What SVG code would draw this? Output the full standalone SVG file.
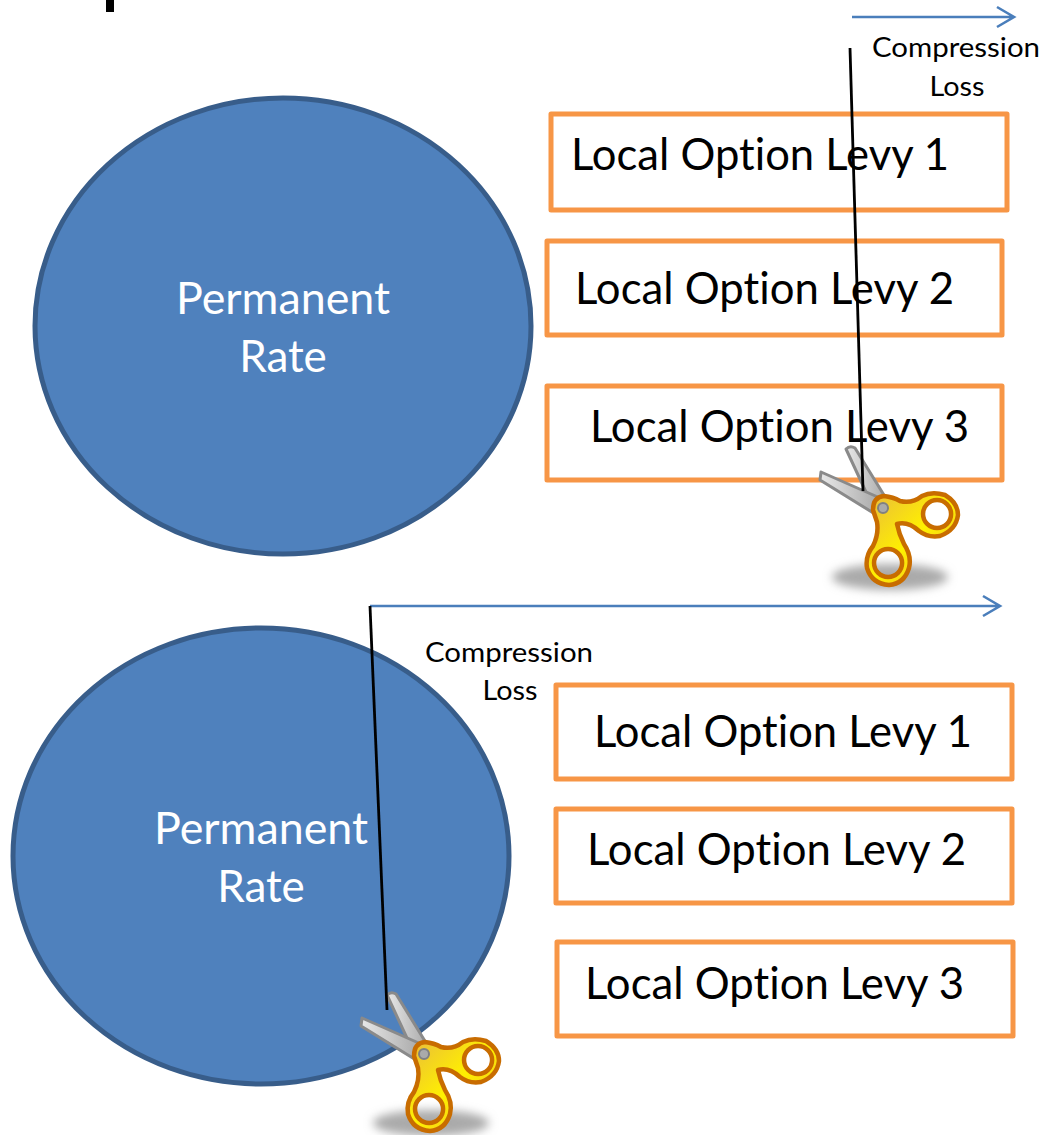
<svg xmlns="http://www.w3.org/2000/svg" width="1043" height="1135" viewBox="0 0 1043 1135">
<style>
.c{fill:#4f81bd;stroke:#385d8a;stroke-width:5}
.b{fill:#fff;stroke:#f79646;stroke-width:5;stroke-linejoin:round}
text{font-family:Lato,"Liberation Sans",sans-serif;font-variant-ligatures:none}
.t{font-size:44px;fill:#000}
.w{font-size:44px;fill:#fff;text-anchor:middle}
.s{font-size:27px;fill:#000;text-anchor:middle}
.a{fill:none;stroke:#4a7ebb;stroke-width:2.6}
.k{fill:none;stroke:#000;stroke-width:2.8}
</style>
<defs>
<filter id="bl" x="-30%" y="-60%" width="160%" height="220%"><feGaussianBlur stdDeviation="5"/></filter>
<linearGradient id="y" x1="0" y1="0" x2="1" y2="1"><stop offset="0" stop-color="#e8b840"/><stop offset=".5" stop-color="#fff000"/><stop offset="1" stop-color="#e8b030"/></linearGradient>
<linearGradient id="bd" x1="0" y1="0" x2="1" y2="0"><stop offset="0" stop-color="#e8e8e8"/><stop offset="1" stop-color="#a8a8a8"/></linearGradient>
<g id="scissors">
<ellipse cx="890" cy="577" rx="58" ry="13" fill="#aaa" filter="url(#bl)"/>
<path d="M846 449Q850 445 855 448L887 500L872 505Z" fill="url(#bd)" stroke="#8a8a8a" stroke-width="3" stroke-linejoin="round"/>
<path d="M820 480L821 472L880 498L875 514Z" fill="url(#bd)" stroke="#8a8a8a" stroke-width="3" stroke-linejoin="round"/>
<path fill-rule="evenodd" fill="url(#y)" stroke="#c86c00" stroke-width="4.5" stroke-linejoin="round" d="M873 510Q873 497 884 496Q893 497 900 501Q912 504 922 496Q932 491 945 495Q958 503 958 515Q956 530 940 536Q928 538 919 531Q908 521 897 524Q899 534 904 544Q912 556 909 568Q904 584 889 585Q872 584 867 568Q865 556 873 546Q879 534 877 522Q875 516 873 510ZM937 500A14 14 0 1 0 937.1 528A14 14 0 1 0 937 500ZM888 549A14 14 0 1 0 888.1 577A14 14 0 1 0 888 549Z"/>
<circle cx="883" cy="508" r="5" fill="#aaa" stroke="#808080" stroke-width="2"/>
</g>
</defs>

<rect width="1043" height="1135" fill="#fff"/>
<rect x="106" y="0" width="8" height="12" fill="#000"/>

<g id="node-permanent-top">
<ellipse class="c" cx="283" cy="326" rx="248" ry="228"/>
<text class="w" x="283" y="314" textLength="214" lengthAdjust="spacingAndGlyphs">Permanent</text>
<text class="w" x="283" y="372">Rate</text>
</g>
<g id="node-permanent-bottom">
<ellipse class="c" cx="261" cy="856" rx="248" ry="228"/>
<text class="w" x="261" y="844" textLength="214" lengthAdjust="spacingAndGlyphs">Permanent</text>
<text class="w" x="261" y="902">Rate</text>
</g>

<g id="node-levy-1-top"><rect class="b" x="551" y="114" width="456" height="96"/><text class="t" x="571" y="170" textLength="378" lengthAdjust="spacingAndGlyphs">Local Option Levy 1</text></g>
<g id="node-levy-2-top"><rect class="b" x="547" y="241" width="455" height="94"/><text class="t" x="575" y="304" textLength="379" lengthAdjust="spacingAndGlyphs">Local Option Levy 2</text></g>
<g id="node-levy-3-top"><rect class="b" x="547" y="386" width="455" height="94"/><text class="t" x="590" y="442" textLength="379" lengthAdjust="spacingAndGlyphs">Local Option Levy 3</text></g>
<g id="node-levy-1-bottom"><rect class="b" x="556" y="685" width="456" height="94"/><text class="t" x="594" y="747" textLength="378" lengthAdjust="spacingAndGlyphs">Local Option Levy 1</text></g>
<g id="node-levy-2-bottom"><rect class="b" x="556" y="809" width="456" height="94"/><text class="t" x="587" y="865" textLength="379" lengthAdjust="spacingAndGlyphs">Local Option Levy 2</text></g>
<g id="node-levy-3-bottom"><rect class="b" x="557" y="942" width="456" height="94"/><text class="t" x="585" y="999" textLength="379" lengthAdjust="spacingAndGlyphs">Local Option Levy 3</text></g>

<g id="scissors-top"><use href="#scissors"/></g>
<g id="scissors-bottom"><use href="#scissors" transform="translate(-459 546)"/></g>

<g id="connectors">
<path class="a" d="M852 17H1013M997 7L1014 17L997 27"/>
<path class="a" d="M370 606H1000M983 596L1000 606L983 616"/>
<path class="k" d="M850 48L863 491"/>
<path class="k" d="M370 606L387 1010"/>
</g>

<g id="labels">
<text class="s" x="956" y="57" textLength="168" lengthAdjust="spacingAndGlyphs">Compression</text>
<text class="s" x="957" y="96" textLength="55" lengthAdjust="spacingAndGlyphs">Loss</text>
<text class="s" x="509" y="662" textLength="168" lengthAdjust="spacingAndGlyphs">Compression</text>
<text class="s" x="510" y="700" textLength="55" lengthAdjust="spacingAndGlyphs">Loss</text>
</g>
</svg>
